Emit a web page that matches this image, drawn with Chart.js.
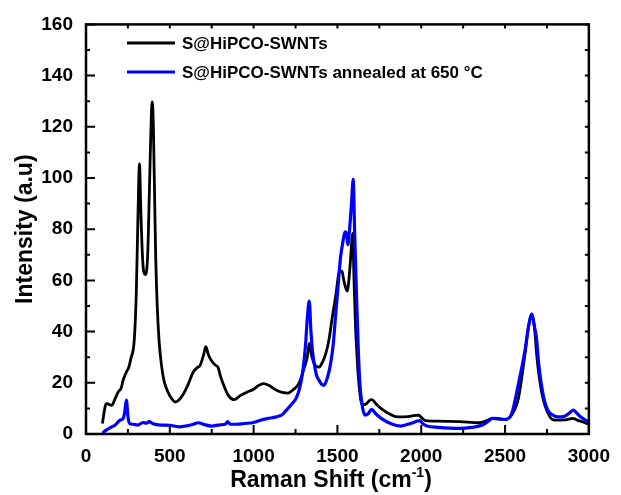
<!DOCTYPE html>
<html>
<head>
<meta charset="utf-8">
<script src="https://cdn.jsdelivr.net/npm/chart.js@4.4.1/dist/chart.umd.min.js"></script>
<style>
  html, body { margin: 0; padding: 0; background: #fff; }
  #chart { display: block; }
</style>
</head>
<body>
<canvas id="chart" width="621" height="495"></canvas>
<script>
// Raman shift (cm-1) and intensity
const pristineX = [98, 115, 124, 153, 175, 192, 210, 221, 241, 255, 270, 282, 289, 300, 310, 319, 328, 340, 354, 368, 380, 390, 396, 402, 410, 416, 425, 436, 450, 465, 485, 504, 533, 553, 580, 610, 640, 665, 680, 700, 715, 730, 748, 770, 787, 805, 826, 850, 884, 920, 962, 1000, 1030, 1060, 1090, 1137, 1170, 1206, 1240, 1254, 1274, 1303, 1320, 1332, 1345, 1362, 1391, 1410, 1430, 1450, 1469, 1490, 1513, 1527, 1537, 1550, 1560, 1568, 1576, 1583, 1590, 1600, 1608, 1615, 1625, 1644, 1660, 1674, 1690, 1706, 1730, 1761, 1800, 1859, 1920, 1965, 1985, 2000, 2025, 2100, 2229, 2346, 2400, 2424, 2450, 2502, 2540, 2580, 2619, 2640, 2660, 2675, 2690, 2716, 2750, 2794, 2850, 2880, 2902, 2940, 2970, 2995];
const pristineY = [4.1, 11, 11.9, 11.2, 14, 16.4, 18, 20.9, 24.2, 26, 30, 33, 37.7, 55, 85, 105.5, 85, 66, 62.3, 70, 100, 125, 129.7, 120, 90, 68.7, 50, 36.4, 27, 20.9, 17, 14.5, 12.5, 13.2, 15.5, 19.5, 24.2, 26, 26.7, 30.5, 34.1, 31, 28.7, 27, 26.1, 22, 18.3, 15, 13.4, 15, 16.4, 17.5, 19, 19.7, 19, 17.1, 16.3, 16, 17.5, 18.3, 20.3, 26.1, 30, 35.4, 31, 27.4, 26.1, 28, 31.3, 37, 45.5, 54, 63.6, 63.6, 60.3, 57, 55.8, 60, 66.2, 73, 78.4, 58, 42, 32.6, 22, 11.9, 11.5, 11.9, 13, 13.4, 11.8, 9.9, 8.2, 6.7, 6.8, 7.3, 7.4, 6.5, 5.2, 5, 4.8, 4.4, 5.5, 6.1, 5.9, 5.7, 7.5, 14, 31.3, 42, 46.8, 42, 30, 17.1, 9, 5.4, 5.5, 5.8, 6.1, 5.2, 4.6, 3.9];

const annealedX = [98, 120, 153, 175, 202, 221, 232, 241, 250, 260, 280, 309, 340, 360, 377, 400, 446, 500, 553, 600, 640, 670, 700, 748, 800, 830, 845, 860, 900, 943, 1000, 1040, 1080, 1137, 1170, 1196, 1225, 1254, 1275, 1294, 1310, 1320, 1332, 1342, 1352, 1362, 1375, 1391, 1405, 1420, 1440, 1459, 1475, 1488, 1503, 1518, 1530, 1547, 1555, 1562, 1570, 1576, 1584, 1594, 1603, 1615, 1625, 1634, 1648, 1664, 1685, 1703, 1730, 1761, 1820, 1878, 1940, 1991, 2010, 2034, 2100, 2229, 2300, 2365, 2400, 2424, 2460, 2502, 2540, 2580, 2600, 2619, 2640, 2660, 2675, 2687, 2700, 2716, 2735, 2755, 2790, 2814, 2850, 2880, 2908, 2930, 2950, 2995];
const annealedY = [0.3, 1.5, 2.8, 3.5, 5.4, 6, 9, 13.2, 7, 4.1, 3.8, 3.5, 4.5, 4.2, 4.8, 4, 3.5, 3.4, 2.8, 3.2, 3.8, 4.4, 3.8, 3.1, 3.6, 3.8, 4.8, 3.8, 3.8, 4.1, 4.5, 5.4, 6, 6.7, 7.5, 9.3, 11.5, 14, 18, 24.8, 35, 45, 51.9, 40, 32, 27.4, 23, 20.9, 19.5, 19, 22, 27.4, 35, 45.5, 57, 68.7, 74, 79, 78, 73.9, 78, 82.9, 90, 99.5, 78, 51.9, 32, 19.6, 11, 7.4, 8, 9.6, 7.8, 6.1, 4, 3.1, 4.2, 5.2, 4, 3.1, 2.6, 2.2, 2.6, 3.5, 5, 6.1, 6, 5.7, 8, 19.6, 26, 32.6, 42, 46.8, 42, 37.7, 28, 19.6, 13, 9.3, 7.2, 6.7, 6.8, 8, 9.3, 8, 6.7, 4.8];

const seriesLabels = ['S@HiPCO-SWNTs', 'S@HiPCO-SWNTs annealed at 650 °C'];
const seriesColors = ['#000000', '#0000ff'];
const xTicks = [0, 500, 1000, 1500, 2000, 2500, 3000];
const yTicks = [0, 20, 40, 60, 80, 100, 120, 140, 160];

const FONT = '"Liberation Sans", Arial, sans-serif';

function toPoints(xs, ys) {
    return xs.map((x, i) => ({ x: x, y: ys[i] }));
}

// frame with inward ticks, legend and the x title with a superscript
const framePlugin = {
    id: 'frame',
    afterDraw(chart) {
        const ctx = chart.ctx;
        const a = chart.chartArea;
        const xs = chart.scales.x;
        const ys = chart.scales.y;
        ctx.save();
        ctx.strokeStyle = '#000';
        ctx.lineWidth = 2.5;
        ctx.strokeRect(a.left, a.top, a.right - a.left, a.bottom - a.top);

        ctx.lineWidth = 2;
        ctx.beginPath();
        for (let v = 0; v <= 3000; v += 250) {
            const px = xs.getPixelForValue(v);
            const major = v % 500 === 0;
            ctx.moveTo(px, a.bottom);
            ctx.lineTo(px, a.bottom - (major ? 9 : 5));
            ctx.moveTo(px, a.top);
            ctx.lineTo(px, a.top + 4);
        }
        for (let v = 0; v <= 160; v += 10) {
            const py = ys.getPixelForValue(v);
            const major = v % 20 === 0;
            ctx.moveTo(a.left, py);
            ctx.lineTo(a.left + (major ? 9 : 4), py);
            ctx.moveTo(a.right, py);
            ctx.lineTo(a.right - 4, py);
        }
        ctx.stroke();

        // legend
        ctx.textBaseline = 'middle';
        ctx.font = 'bold 17px ' + FONT;
        const rows = [43, 72];
        chart.data.datasets.forEach((ds, i) => {
            ctx.strokeStyle = ds.borderColor;
            ctx.lineWidth = 3;
            ctx.beginPath();
            ctx.moveTo(127, rows[i]);
            ctx.lineTo(175, rows[i]);
            ctx.stroke();
            ctx.fillStyle = '#000';
            ctx.fillText(ds.label, 182, rows[i] + 1);
        });

        // x axis title
        ctx.textBaseline = 'alphabetic';
        const big = 'bold 23px ' + FONT;
        const small = 'bold 14px ' + FONT;
        ctx.font = big;
        const w1 = ctx.measureText('Raman Shift (cm').width;
        const w3 = ctx.measureText(')').width;
        ctx.font = small;
        const w2 = ctx.measureText('-1').width;
        let x0 = 331 - (w1 + w2 + w3) / 2;
        const base = 487;
        ctx.fillStyle = '#000';
        ctx.font = big;
        ctx.fillText('Raman Shift (cm', x0, base);
        ctx.font = small;
        ctx.fillText('-1', x0 + w1, base - 10);
        ctx.font = big;
        ctx.fillText(')', x0 + w1 + w2, base);
        ctx.restore();
    }
};

new Chart(document.getElementById('chart'), {
    type: 'line',
    data: {
        datasets: [
            {
                label: seriesLabels[0],
                data: toPoints(pristineX, pristineY),
                borderColor: seriesColors[0],
                borderWidth: 2.8,
                order: 2
            },
            {
                label: seriesLabels[1],
                data: toPoints(annealedX, annealedY),
                borderColor: seriesColors[1],
                borderWidth: 3.2,
                order: 1
            }
        ]
    },
    options: {
        responsive: false,
        animation: false,
        devicePixelRatio: 1,
        elements: {
            point: { radius: 0 },
            line: { cubicInterpolationMode: 'monotone', fill: false }
        },
        layout: { padding: { left: 0, right: 23, top: 22, bottom: 0 } },
        plugins: {
            legend: { display: false },
            tooltip: { enabled: false }
        },
        scales: {
            x: {
                type: 'linear',
                min: 0,
                max: 3000,
                afterFit: s => { s.height = 61; },
                afterBuildTicks: s => { s.ticks = xTicks.map(v => ({ value: v })); },
                grid: { display: false, drawTicks: false },
                border: { display: false },
                ticks: {
                    color: '#000',
                    padding: 11,
                    maxRotation: 0,
                    callback: v => String(v),
                    font: { family: FONT, size: 19, weight: 'bold' }
                }
            },
            y: {
                min: 0,
                max: 160,
                afterFit: s => { s.width = 86; },
                afterBuildTicks: s => { s.ticks = yTicks.map(v => ({ value: v })); },
                grid: { display: false, drawTicks: false },
                border: { display: false },
                ticks: {
                    color: '#000',
                    padding: 13,
                    callback: v => String(v),
                    font: { family: FONT, size: 19, weight: 'bold' }
                },
                title: {
                    display: true,
                    text: 'Intensity (a.u)',
                    color: '#000',
                    padding: { top: 12, bottom: 0 },
                    font: { family: FONT, size: 23, weight: 'bold' }
                }
            }
        }
    },
    plugins: [framePlugin]
});
</script>
</body>
</html>
